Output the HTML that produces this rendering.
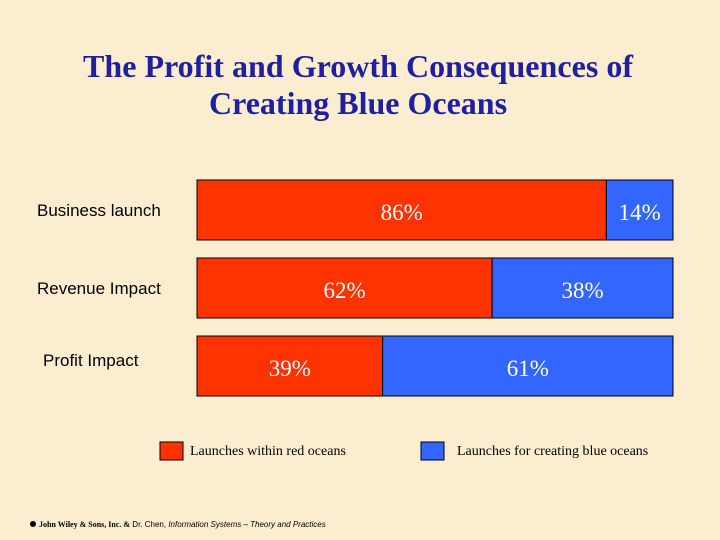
<!DOCTYPE html>
<html><head><meta charset="utf-8"><style>
body{margin:0;width:720px;height:540px;overflow:hidden;background:#fbedd0;}
svg{display:block}
</style></head><body>
<svg id="c" width="720" height="540" xmlns="http://www.w3.org/2000/svg">
<rect width="720" height="540" fill="#fbedd0"/>
<text x="358" y="77" text-anchor="middle" font-family="Liberation Serif, serif" font-weight="bold" font-size="32" textLength="550" fill="#1f1fa0">The Profit and Growth Consequences of</text>
<text x="358" y="114" text-anchor="middle" font-family="Liberation Serif, serif" font-weight="bold" font-size="32" fill="#1f1fa0">Creating Blue Oceans</text>
<g id="bars"></g>
<rect x="160" y="442" width="23" height="18" fill="#ff3300" stroke="#000" stroke-width="1"/>
<text x="190" y="455" font-family="Liberation Serif, serif" font-size="14" fill="#000">Launches within red oceans</text>
<rect x="421" y="442" width="23" height="18" fill="#3366ff" stroke="#000" stroke-width="1"/>
<text x="457" y="455" font-family="Liberation Serif, serif" font-size="14" fill="#000">Launches for creating blue oceans</text>
<circle cx="33" cy="524" r="3" fill="#000"/>
<text x="39" y="527" font-family="Liberation Sans, sans-serif" font-size="8" fill="#000"><tspan font-family="Liberation Serif, serif" font-weight="bold">John Wiley &amp; Sons, Inc. &amp;</tspan> Dr. Chen, <tspan font-style="italic">Information Systems – Theory and Practices</tspan></text>
</svg>
<script>
const categories=["Business launch","Revenue Impact","Profit Impact"];
const redValues=[86,62,39];
const blueValues=[14,38,61];
const redLabels=["86%","62%","39%"];
const blueLabels=["14%","38%","61%"];
const NS="http://www.w3.org/2000/svg";
const g=document.getElementById("bars");
const x0=197,x1=673;
function xs(v){return x0+(x1-x0)*v/100;}
function ys(i){return 180+i*78;}
const catX=[37,37,43],catDy=[36,36,30];
function mk(t,a){const e=document.createElementNS(NS,t);for(const k in a)e.setAttribute(k,a[k]);g.appendChild(e);return e;}
categories.forEach((c,i)=>{
  const y=ys(i),r=redValues[i],b=blueValues[i];
  const xr=xs(r),xb=xs(r+b);
  const rr=mk("rect",{x:x0,y:y,width:xr-x0,height:60,fill:"#ff3300",stroke:"#000","stroke-width":1});
  
  
  const br=mk("rect",{x:xr,y:y,width:xb-xr,height:60,fill:"#3366ff",stroke:"#000","stroke-width":1});
  
  
  const t1=mk("text",{x:(x0+xr)/2,y:y+40,"text-anchor":"middle","font-family":"Liberation Serif, serif","font-size":23,fill:"#fff"});
  t1.textContent=redLabels[i];
  
  
  const t2=mk("text",{x:(xr+xb)/2,y:y+40,"text-anchor":"middle","font-family":"Liberation Serif, serif","font-size":23,fill:"#fff"});
  t2.textContent=blueLabels[i];
  
  
  const cl=mk("text",{x:catX[i],y:y+catDy[i],"font-family":"Liberation Sans, sans-serif","font-size":17,fill:"#000"});
  cl.textContent=c;
  
  
});
</script>
</body></html>
